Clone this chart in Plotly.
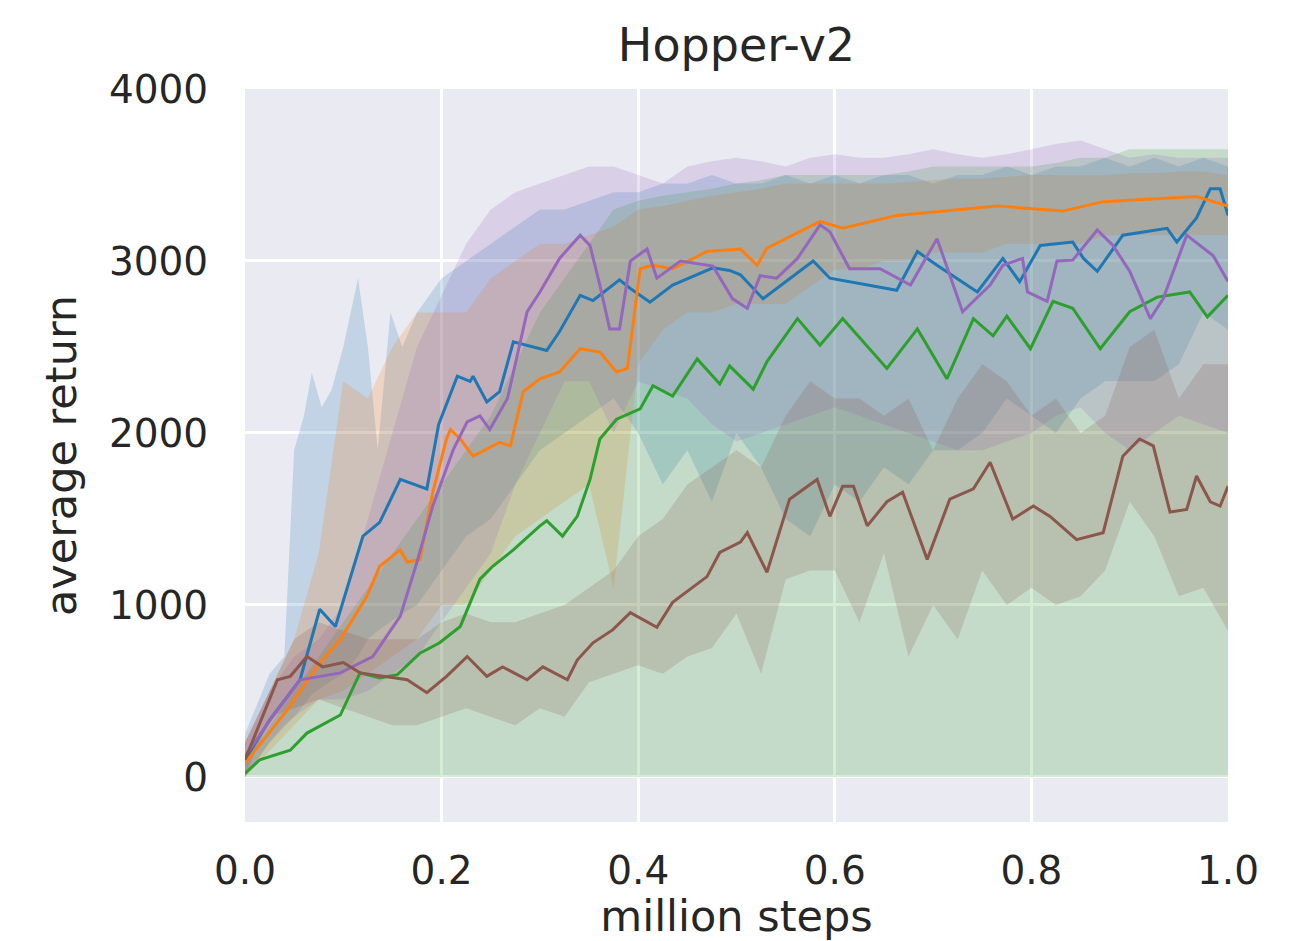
import plotly.graph_objects as go

# Training curves on Hopper-v2: mean return per method (lines) and spread (bands)

# ---- mean curves (million steps, average return) ----
blue_x = [0.000, 0.025, 0.056, 0.076, 0.092, 0.120, 0.137, 0.158, 0.185, 0.197, 0.216, 0.229,
          0.232, 0.246, 0.259, 0.273, 0.307, 0.320, 0.341, 0.354, 0.381, 0.392, 0.412, 0.435,
          0.476, 0.493, 0.504, 0.527, 0.578, 0.595, 0.663, 0.684, 0.704, 0.745, 0.771, 0.788,
          0.809, 0.842, 0.853, 0.867, 0.893, 0.938, 0.948, 0.968, 0.982, 0.992, 1.000]
blue_y = [100, 330, 565, 975, 875, 1400, 1480, 1730, 1675, 2050, 2330, 2300,
          2330, 2180, 2240, 2530, 2480, 2590, 2800, 2770, 2890, 2840, 2760, 2860,
          2960, 2945, 2920, 2780, 3000, 2900, 2830, 3055, 2975, 2820, 3015, 2880,
          3090, 3110, 3015, 2940, 3150, 3190, 3110, 3250, 3420, 3420, 3265]

orange_x = [0.000, 0.043, 0.073, 0.097, 0.124, 0.137, 0.158, 0.165, 0.178, 0.191, 0.205, 0.209,
            0.219, 0.232, 0.259, 0.270, 0.283, 0.300, 0.320, 0.341, 0.361, 0.378, 0.389, 0.402,
            0.415, 0.435, 0.470, 0.504, 0.521, 0.531, 0.585, 0.608, 0.663, 0.765, 0.832, 0.873,
            0.968, 1.000]
orange_y = [80, 390, 640, 800, 1050, 1225, 1320, 1250, 1265, 1655, 1965, 2020,
            1965, 1865, 1945, 1925, 2240, 2315, 2355, 2490, 2470, 2355, 2375, 2955,
            2975, 2955, 3055, 3070, 2975, 3075, 3230, 3190, 3265, 3320, 3290, 3345,
            3375, 3320]

green_x = [0.000, 0.015, 0.046, 0.063, 0.097, 0.117, 0.137, 0.155, 0.178, 0.198, 0.219, 0.239,
           0.252, 0.273, 0.300, 0.307, 0.323, 0.338, 0.351, 0.361, 0.378, 0.402, 0.415, 0.435,
           0.460, 0.483, 0.493, 0.517, 0.531, 0.562, 0.585, 0.608, 0.653, 0.684, 0.714, 0.741,
           0.761, 0.775, 0.799, 0.822, 0.842, 0.870, 0.900, 0.928, 0.961, 0.979, 1.000]
green_y = [20, 100, 155, 255, 360, 605, 575, 595, 720, 780, 875, 1150,
           1225, 1320, 1460, 1490, 1400, 1515, 1730, 1965, 2080, 2140, 2275, 2215,
           2430, 2285, 2390, 2255, 2415, 2665, 2510, 2665, 2375, 2605, 2315, 2665,
           2565, 2680, 2490, 2765, 2725, 2490, 2705, 2790, 2820, 2675, 2800]

purple_x = [0.000, 0.028, 0.056, 0.097, 0.130, 0.158, 0.175, 0.191, 0.212, 0.226, 0.239, 0.249,
            0.267, 0.287, 0.300, 0.320, 0.341, 0.351, 0.361, 0.371, 0.381, 0.392, 0.409, 0.419,
            0.443, 0.476, 0.496, 0.511, 0.524, 0.541, 0.562, 0.585, 0.595, 0.615, 0.646, 0.677,
            0.704, 0.730, 0.758, 0.771, 0.791, 0.796, 0.816, 0.826, 0.842, 0.867, 0.883, 0.900,
            0.921, 0.934, 0.958, 0.985, 1.000]
purple_y = [120, 350, 565, 605, 700, 935, 1250, 1575, 1905, 2065, 2100, 2020,
            2200, 2705, 2820, 3015, 3150, 3090, 2860, 2605, 2605, 3000, 3070, 2900,
            3000, 2970, 2780, 2725, 2915, 2900, 3015, 3210, 3170, 2955, 2955, 2860,
            3130, 2705, 2860, 2975, 3015, 2820, 2765, 3000, 3005, 3180, 3090, 2940,
            2665, 2780, 3150, 3030, 2880]

brown_x = [0.000, 0.033, 0.046, 0.063, 0.079, 0.100, 0.117, 0.140, 0.165, 0.185, 0.205, 0.226,
           0.246, 0.262, 0.287, 0.303, 0.328, 0.338, 0.354, 0.374, 0.392, 0.419, 0.435, 0.470,
           0.483, 0.504, 0.511, 0.531, 0.554, 0.582, 0.595, 0.608, 0.619, 0.633, 0.653, 0.669,
           0.694, 0.717, 0.741, 0.758, 0.781, 0.802, 0.819, 0.846, 0.873, 0.893, 0.910, 0.924,
           0.941, 0.958, 0.968, 0.982, 0.992, 1.000]
brown_y = [100, 565, 585, 700, 640, 665, 605, 585, 565, 490, 585, 700,
           585, 640, 565, 640, 565, 680, 780, 855, 955, 870, 1015, 1165,
           1305, 1365, 1420, 1190, 1615, 1730, 1515, 1690, 1690, 1460, 1600, 1655,
           1265, 1615, 1675, 1830, 1500, 1575, 1515, 1380, 1420, 1865, 1965, 1925,
           1540, 1555, 1750, 1600, 1575, 1690]

# ---- spread bands ----
# blue band has its own, denser sampling over the first 0.2 million steps
blue_band_x = [0.000, 0.025, 0.040, 0.050, 0.060, 0.068, 0.078, 0.088, 0.100, 0.115, 0.125,
               0.135, 0.148, 0.160, 0.175, 0.200, 0.225, 0.250, 0.275, 0.300, 0.325, 0.350,
               0.375, 0.400, 0.425, 0.450, 0.475, 0.500, 0.525, 0.550, 0.575, 0.600, 0.625,
               0.650, 0.675, 0.700, 0.725, 0.750, 0.775, 0.800, 0.825, 0.850, 0.875, 0.900,
               0.925, 0.950, 0.975, 1.000]
blue_hi = [250, 600, 700, 1900, 2100, 2350, 2150, 2250, 2500, 2900, 2500,
           1900, 2700, 2500, 2700, 2900, 3000, 3100, 3200, 3300, 3300, 3350,
           3400, 3400, 3450, 3450, 3500, 3450, 3450, 3500, 3450, 3500, 3450,
           3500, 3500, 3450, 3500, 3500, 3550, 3500, 3550, 3550, 3600, 3550,
           3600, 3550, 3600, 3550]
blue_lo = [0, 200, 300, 350, 420, 480, 520, 560, 600, 700, 800,
           850, 900, 950, 1000, 1200, 1400, 1500, 1700, 1900, 2000, 2100,
           2200, 2000, 1700, 1900, 1600, 2000, 1800, 1500, 1400, 1700, 1600,
           1800, 1700, 1900, 1900, 2000, 2200, 2100, 2000, 2200, 2300, 2300,
           2300, 2400, 2700, 2600]

# remaining bands sampled every 0.025 million steps
band_x = [i * 0.025 for i in range(41)]

orange_hi = [200, 500, 800, 1300, 2300, 2200, 2500, 2700, 2700, 2700, 2900, 3000, 3100, 3100,
             3150, 3200, 3300, 3320, 3350, 3380, 3400, 3420, 3450, 3450, 3450, 3450, 3450, 3460,
             3470, 3480, 3480, 3490, 3500, 3500, 3500, 3500, 3510, 3510, 3520, 3520, 3500]
orange_lo = [0, 150, 300, 450, 500, 600, 700, 800, 1000, 1000, 1200, 1400, 1500, 1600,
             1700, 1100, 2400, 2600, 2700, 2700, 2750, 2750, 2750, 2850, 2950, 2950, 3000, 3000,
             3050, 3050, 3050, 3100, 3100, 3100, 3100, 3150, 3150, 3150, 3150, 3150, 3150]

green_hi = [100, 300, 500, 700, 900, 1100, 1300, 1500, 1700, 1900, 2100, 2400, 2700, 2900,
            3100, 3300, 3350, 3380, 3400, 3420, 3450, 3470, 3500, 3500, 3500, 3500, 3500, 3520,
            3550, 3550, 3550, 3550, 3550, 3570, 3600, 3600, 3650, 3650, 3650, 3650, 3650]
green_lo = [0] * 41

purple_hi = [200, 500, 700, 800, 1000, 1500, 2000, 2500, 2800, 3100, 3300, 3400, 3450, 3500,
             3550, 3550, 3500, 3450, 3550, 3580, 3600, 3580, 3550, 3600, 3620, 3600, 3600, 3620,
             3650, 3620, 3600, 3620, 3650, 3680, 3700, 3650, 3600, 3620, 3600, 3600, 3600]
purple_lo = [0, 200, 350, 450, 450, 500, 600, 700, 900, 1100, 1300, 1700, 2000, 2300,
             2300, 2000, 2300, 2250, 2200, 2050, 1950, 2000, 2050, 2100, 2150, 2100, 2050, 2000,
             1950, 1900, 1900, 1950, 2000, 2100, 2150, 2000, 1900, 2000, 2100, 2050, 2000]

brown_hi = [200, 500, 800, 900, 850, 800, 800, 800, 900, 950, 900, 900, 950, 1000,
            1100, 1200, 1400, 1500, 1700, 1800, 1900, 1800, 2100, 2300, 2200, 2200, 2100, 2200,
            1900, 2200, 2400, 2300, 2100, 2200, 2000, 2100, 2500, 2600, 2200, 2400, 2400]
brown_lo = [0, 350, 400, 450, 400, 350, 300, 300, 350, 400, 350, 300, 400, 350,
            550, 600, 650, 600, 700, 750, 950, 600, 1150, 1200, 1200, 900, 1300, 700,
            1000, 800, 1200, 1000, 1100, 1000, 1050, 1200, 1600, 1400, 1050, 1100, 850]

series = [
    ("blue", "#1f77b4", "rgba(31,119,180,0.2)", blue_x, blue_y, blue_band_x, blue_hi, blue_lo),
    ("orange", "#ff7f0e", "rgba(255,127,14,0.2)", orange_x, orange_y, band_x, orange_hi, orange_lo),
    ("green", "#2ca02c", "rgba(44,160,44,0.2)", green_x, green_y, band_x, green_hi, green_lo),
    ("purple", "#9467bd", "rgba(148,103,189,0.2)", purple_x, purple_y, band_x, purple_hi, purple_lo),
    ("brown", "#8c564b", "rgba(140,86,75,0.2)", brown_x, brown_y, band_x, brown_hi, brown_lo),
]

fig = go.Figure()

# bands first so that every mean curve sits on top
for name, color, fill, xs, ys, bx, hi, lo in series:
    fig.add_trace(go.Scatter(
        x=list(bx) + list(bx)[::-1],
        y=hi + lo[::-1],
        fill="toself", fillcolor=fill,
        line=dict(width=0), mode="lines",
        hoverinfo="skip", showlegend=False,
    ))

for name, color, fill, xs, ys, bx, hi, lo in series:
    fig.add_trace(go.Scatter(
        x=xs, y=ys, mode="lines", name=name,
        line=dict(color=color, width=3),
        showlegend=False,
    ))

font_family = "DejaVu Sans"
text_color = "#262626"

fig.update_layout(
    width=1306, height=941,
    margin=dict(l=245, r=78, t=89, b=119),
    paper_bgcolor="white",
    plot_bgcolor="#EAEAF2",
    font=dict(family=font_family, color=text_color),
    title=dict(text="Hopper-v2", x=0.5, xanchor="center", xref="paper",
               y=1 - 45 / 941, yanchor="middle", yref="container",
               font=dict(size=46, family=font_family, color=text_color)),
)

fig.update_xaxes(
    range=[0, 1],
    tickvals=[0, 0.2, 0.4, 0.6, 0.8, 1.0],
    ticktext=["0.0", "0.2", "0.4", "0.6", "0.8", "1.0"],
    tickfont=dict(size=39, color=text_color),
    ticks="outside", ticklen=14, tickcolor="rgba(0,0,0,0)",
    showgrid=True, gridcolor="white", gridwidth=3,
    zeroline=False, showline=False,
    title=dict(text="million steps", font=dict(size=43, color=text_color), standoff=4),
)

fig.update_yaxes(
    range=[-262, 4000],
    tickvals=[0, 1000, 2000, 3000, 4000],
    tickfont=dict(size=39, color=text_color),
    ticks="outside", ticklen=28, tickcolor="rgba(0,0,0,0)",
    showgrid=True, gridcolor="white", gridwidth=3,
    zeroline=False, showline=False,
    title=dict(text="average return", font=dict(size=43, color=text_color), standoff=18),
)

fig.write_html("out.html")
